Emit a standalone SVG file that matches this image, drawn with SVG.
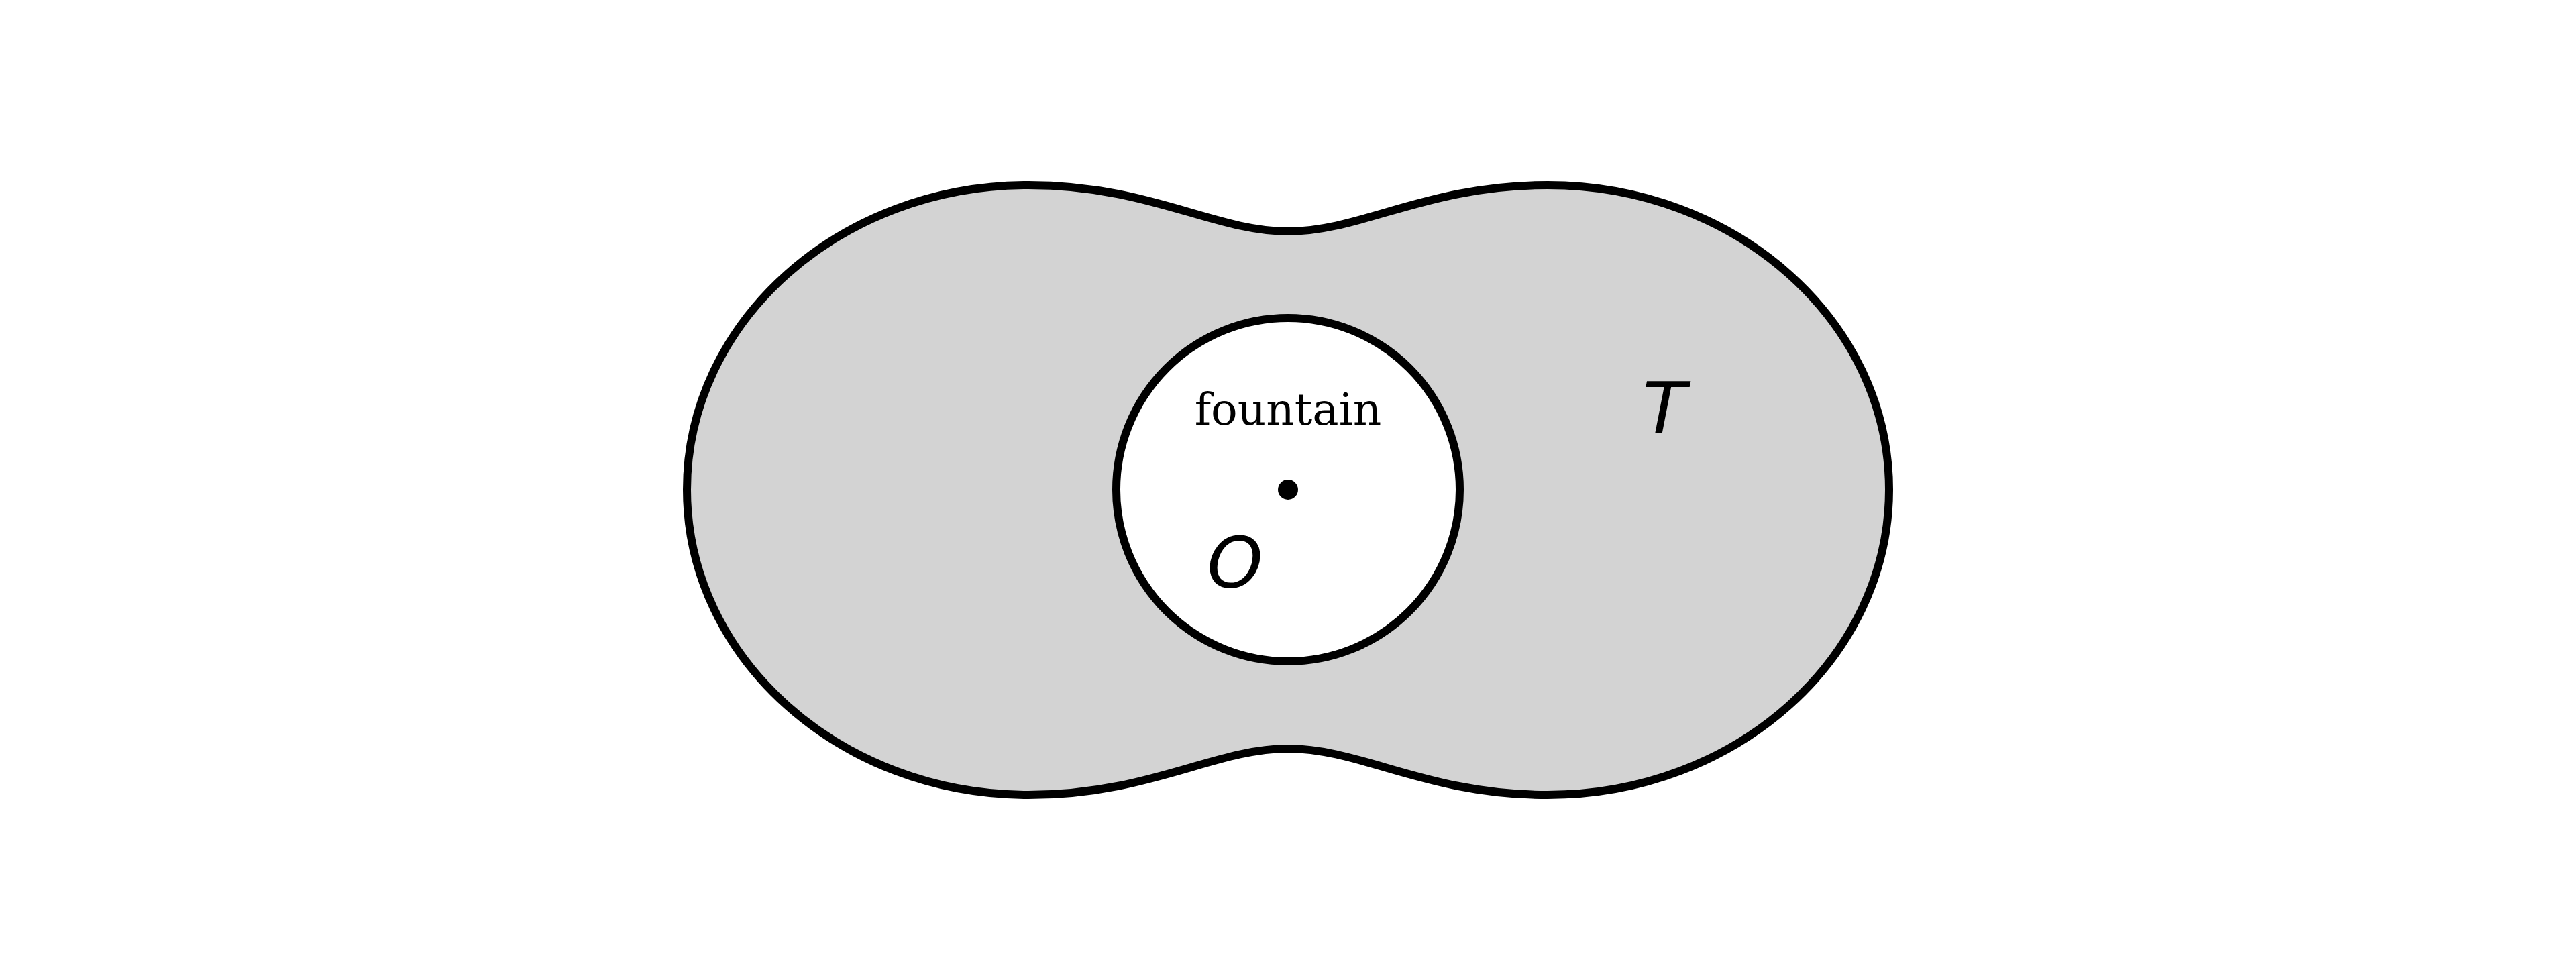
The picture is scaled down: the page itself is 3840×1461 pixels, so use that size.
<svg xmlns="http://www.w3.org/2000/svg" width="3840" height="1461" viewBox="0 0 3840 1461">
  <style>
    .outline { stroke: #000000; stroke-width: 12; stroke-linejoin: round; }
    .math { font-family: "DejaVu Sans", sans-serif; font-style: italic; font-size: 106px; fill: #000000; }
    .label { font-family: "DejaVu Serif", serif; font-size: 66px; fill: #000000; }
  </style>
  <rect x="0" y="0" width="3840" height="1461" fill="#ffffff"/>
  <g id="region-T">
    <path class="outline" fill="#d3d3d3" d="M 1024 730 C 1024 479 1252 276 1533 276 C 1713 276 1810 345 1920 345 C 2030 345 2127 276 2307 276 C 2588 276 2816 479 2816 730 C 2816 981 2588 1185 2307 1185 C 2127 1185 2030 1116 1920 1116 C 1810 1116 1713 1185 1533 1185 C 1252 1185 1024 981 1024 730 Z"/>
    <text class="math" x="2481" y="645" text-anchor="middle">T</text>
  </g>
  <g id="fountain">
    <circle class="outline" cx="1920" cy="730" r="256" fill="#ffffff"/>
    <text class="label" x="1920" y="633" text-anchor="middle">fountain</text>
  </g>
  <g id="point-O">
    <circle cx="1920" cy="730" r="15" fill="#000000"/>
    <text class="math" x="1841" y="876" text-anchor="middle">O</text>
  </g>
  <g id="connectors"/>
</svg>
